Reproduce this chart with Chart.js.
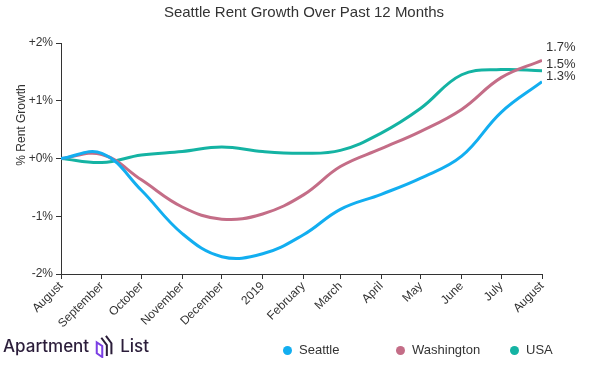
<!DOCTYPE html>
<html>
<head>
<meta charset="utf-8">
<script src="https://cdn.jsdelivr.net/npm/chart.js@4"></script>
<style>
    body { margin: 0; background: #fff; font-family: "Liberation Sans", Arial, sans-serif; }
    #wrap { position: relative; width: 589px; height: 365px; }
    #chart { position: absolute; left: 0; top: 0; }
    .legend { position: absolute; top: 342px; font-size: 13px; color: #333; white-space: nowrap; }
    .legend span.dot { display: inline-block; width: 9px; height: 9px; border-radius: 50%; margin-right: 7px; vertical-align: -1px; }
    #logo { position: absolute; left: 3px; top: 334px; font-family: "Inter", "Noto Sans", sans-serif; font-size: 17px; color: #2b1d3a; white-space: nowrap; font-weight: 500; }
    #logo svg { vertical-align: -6px; margin: 0 4px 0 5px; }
</style>
</head>
<body>
<div id="wrap">
    <canvas id="chart" width="589" height="365"></canvas>
    <div id="logo">Apartment<svg width="22" height="24" viewBox="0 0 24 26"><path d="M3 9 L3 21 L9 25 L9 13 Z" fill="none" stroke="#7b3fe4" stroke-width="2.2"/><path d="M8 4 L14 12 L14 24" fill="none" stroke="#2b1d3a" stroke-width="2.2"/><path d="M13 2 L19 10 L19 22" fill="none" stroke="#2b1d3a" stroke-width="2.2"/></svg>List</div>
    <div class="legend" style="left:283px"><span class="dot" style="background:#12aef0"></span>Seattle</div>
    <div class="legend" style="left:396px"><span class="dot" style="background:#c46d87"></span>Washington</div>
    <div class="legend" style="left:510px"><span class="dot" style="background:#14b3a3"></span>USA</div>
</div>
<script>
// days since Aug 1 2018 for each month tick
const monthDays = [0, 31, 61, 92, 122, 153, 184, 212, 243, 273, 304, 334, 365];
const monthLabels = ['August', 'September', 'October', 'November', 'December', '2019',
    'February', 'March', 'April', 'May', 'June', 'July', 'August'];

const seattle    = [0, 0.09, -0.55, -1.30, -1.70, -1.65, -1.32, -0.88, -0.62, -0.34, 0.04, 0.80, 1.33];
const washington = [0, 0.07, -0.37, -0.84, -1.05, -0.96, -0.63, -0.14, 0.17, 0.47, 0.85, 1.40, 1.70];
const usa        = [0, -0.07, 0.06, 0.12, 0.20, 0.12, 0.09, 0.14, 0.44, 0.87, 1.45, 1.54, 1.52];

const endLabels = ['1.3%', '1.7%', '1.5%'];

const yTicks = [-2, -1, 0, 1, 2];

function points(values) {
    return values.map((v, i) => ({ x: monthDays[i], y: v }));
}

function series(label, values, color) {
    return {
        label: label,
        data: points(values),
        borderColor: color,
        backgroundColor: color,
        borderWidth: 3,
        pointRadius: 0,
        tension: 0.4,
        fill: false
    };
}

// title, y axis title and end-of-line values
const extras = {
    id: 'extras',
    afterDraw(chart) {
        const ctx = chart.ctx;
        ctx.save();
        ctx.fillStyle = '#333';
        ctx.font = '15px "Liberation Sans", Arial, sans-serif';
        ctx.textAlign = 'center';
        ctx.textBaseline = 'middle';
        ctx.fillText('Seattle Rent Growth Over Past 12 Months', 304, 13);

        ctx.font = '12px "Liberation Sans", Arial, sans-serif';
        ctx.save();
        ctx.translate(22, 125);
        ctx.rotate(-Math.PI / 2);
        ctx.fillText('% Rent Growth', 0, 0);
        ctx.restore();

        const xs = chart.scales.x, ys = chart.scales.y;
        const last = monthDays.length - 1;
        const ends = [seattle[last], washington[last], usa[last]];
        const nudge = [-5, -13, -6];
        ctx.textAlign = 'left';
        ctx.font = '13px "Liberation Sans", Arial, sans-serif';
        ends.forEach((v, i) => {
            ctx.fillText(endLabels[i], xs.getPixelForValue(monthDays[last]) + 4, ys.getPixelForValue(v) + nudge[i]);
        });
        ctx.restore();
    }
};

const ctx = document.getElementById('chart').getContext('2d');
new Chart(ctx, {
    type: 'line',
    data: {
        datasets: [
            series('Seattle', seattle, '#12aef0'),
            series('Washington', washington, '#c46d87'),
            series('USA', usa, '#14b3a3')
        ]
    },
    options: {
        responsive: false,
        animation: false,
        layout: { padding: { left: 0, right: 47, top: 43, bottom: 0 } },
        plugins: {
            legend: { display: false },
            title: { display: false },
            tooltip: { enabled: false }
        },
        scales: {
            x: {
                type: 'linear',
                min: 0,
                max: 365,
                afterBuildTicks: scale => { scale.ticks = monthDays.map(d => ({ value: d })); },
                afterFit: scale => { scale.height = 91; },
                ticks: {
                    autoSkip: false,
                    minRotation: 45,
                    maxRotation: 45,
                    color: '#333',
                    padding: 0,
                    font: { family: '"Liberation Sans", Arial, sans-serif', size: 12 },
                    callback: (v, i) => monthLabels[i]
                },
                grid: { drawOnChartArea: false, drawTicks: true, tickLength: 5, color: '#333' },
                border: { color: '#333' }
            },
            y: {
                min: -2,
                max: 2,
                afterBuildTicks: scale => { scale.ticks = yTicks.map(v => ({ value: v })); },
                afterFit: scale => { scale.width = 61; },
                ticks: {
                    color: '#333',
                    padding: 3,
                    font: { family: '"Liberation Sans", Arial, sans-serif', size: 12 },
                    callback: v => (v >= 0 ? '+' : '') + v + '%'
                },
                grid: { drawOnChartArea: false, drawTicks: true, tickLength: 5, color: '#333' },
                border: { color: '#333' }
            }
        }
    },
    plugins: [extras]
});
</script>
</body>
</html>
